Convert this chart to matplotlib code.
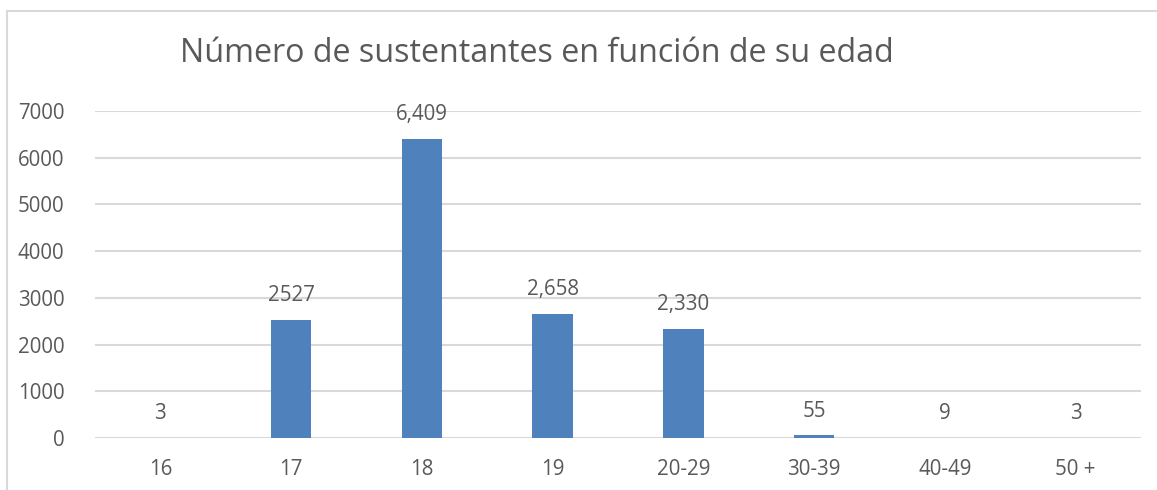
import matplotlib
matplotlib.use("Agg")
import matplotlib.pyplot as plt
from matplotlib.patches import Rectangle

categories = ["16", "17", "18", "19", "20-29", "30-39", "40-49", "50 +"]
values = [3, 2527, 6409, 2658, 2330, 55, 9, 3]
labels = ["3", "2527", "6,409", "2,658", "2,330", "55", "9", "3"]
yticks = [0, 1000, 2000, 3000, 4000, 5000, 6000, 7000]
title = "Número de sustentantes en función de su edad"

plt.rcParams['font.family'] = ['Open Sans', 'DejaVu Sans']
text_color = "#595959"
bar_color = "#4F81BD"
grid_color = "#D9D9D9"

fig = plt.figure(figsize=(11.57, 4.90), dpi=100)
fig.patches.append(Rectangle((7/1157, -0.1), 1.2, 1 - 11/490 + 0.1, transform=fig.transFigure,
                             fill=False, edgecolor="#D9D9D9", linewidth=1.5, zorder=0))
ax = fig.add_axes([95/1157, 1 - 438/490, (1141 - 95)/1157, (438 - 111)/490])
x = list(range(len(categories)))
ax.bar(x, values, width=0.31, color=bar_color, zorder=3)
ax.set_xlim(-0.5, len(categories) - 0.5)
ax.set_ylim(0, 7000)
ax.set_yticks(yticks)
ax.set_yticklabels([str(t) for t in yticks])
ax.set_xticks(x)
ax.set_xticklabels(categories)
ax.tick_params(axis='both', length=0, labelsize=14.8, colors=text_color)
ax.tick_params(axis='y', pad=22)
ax.tick_params(axis='x', pad=15)
ax.yaxis.grid(True, color=grid_color, linewidth=1.5, zorder=0)
for s in ax.spines.values():
    s.set_visible(False)
for xi, v, lab in zip(x, values, labels):
    ax.annotate(lab, (xi, v), xytext=(0, 10), textcoords="offset points",
                ha="center", va="bottom", fontsize=14.8, color=text_color)
fig.text(537/1157, 1 - 62/490, title, ha="center", va="baseline", fontsize=23.2, color=text_color)
fig.savefig("out.png", dpi=100)
